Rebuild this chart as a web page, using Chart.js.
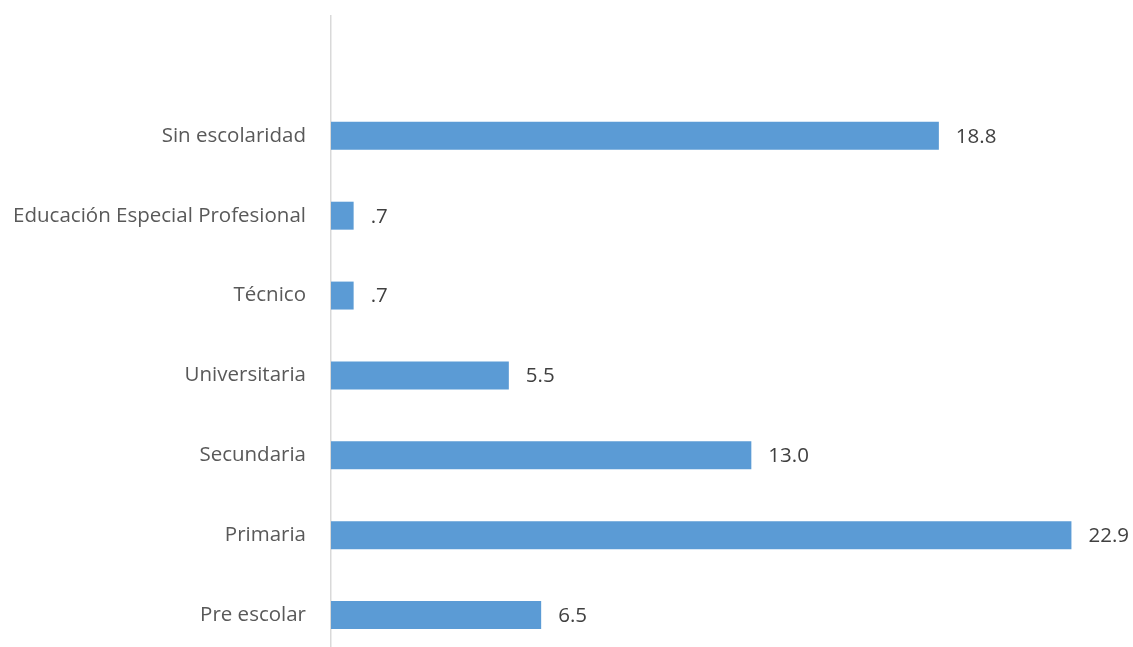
<!DOCTYPE html>
<html>
<head>
<meta charset="utf-8">
<script src="https://cdn.jsdelivr.net/npm/chart.js@4/dist/chart.umd.min.js"></script>
<style>
  html, body { margin: 0; padding: 0; background: #ffffff; overflow: hidden; }
  #wrap { width: 1133px; height: 660px; position: relative; }
</style>
</head>
<body>
<div id="wrap"><canvas id="c"></canvas></div>
<script>
// Education level categories (top slot left empty) and their percentages
const categories = ["", "Sin escolaridad", "Educación Especial Profesional", "Técnico", "Universitaria", "Secundaria", "Primaria", "Pre escolar"];
const values = [null, 18.8, 0.7, 0.7, 5.5, 13.0, 22.9, 6.5];

function fmt(v) {
  const s = v.toFixed(1);
  return s.startsWith("0") ? s.slice(1) : s;
}

// Draws the value next to the end of each bar
const valueLabels = {
  id: "valueLabels",
  afterDatasetsDraw(chart) {
    const ctx = chart.ctx;
    const meta = chart.getDatasetMeta(0);
    ctx.save();
    ctx.font = "20.5px 'Open Sans'";
    ctx.fillStyle = "#404040";
    ctx.textAlign = "left";
    ctx.textBaseline = "middle";
    meta.data.forEach((bar, i) => {
      const v = values[i];
      if (v === null || v === undefined) return;
      ctx.fillText(fmt(v), bar.x + 17, bar.y + 1);
    });
    ctx.restore();
  }
};

new Chart(document.getElementById("c"), {
  type: "bar",
  data: {
    labels: categories,
    datasets: [{
      data: values,
      backgroundColor: "#5b9bd5",
      borderWidth: 0,
      categoryPercentage: 1.0,
      barPercentage: 0.35
    }]
  },
  options: {
    indexAxis: "y",
    responsive: true,
    maintainAspectRatio: false,
    animation: false,
    layout: { padding: { top: 16, bottom: 5, left: 0, right: 26 } },
    plugins: { legend: { display: false }, tooltip: { enabled: false } },
    scales: {
      x: {
        display: false,
        min: 0,
        max: 24
      },
      y: {
        grid: { display: false },
        border: { display: true, color: "#d9d9d9", width: 1.5 },
        ticks: {
          color: "#595959",
          font: { family: "'Open Sans'", size: 20.5 },
          padding: 17
        },
        afterFit(scale) {
          scale.width = 331;
          scale.paddingTop = 0;
          scale.paddingBottom = 0;
        }
      }
    }
  },
  plugins: [valueLabels]
});
</script>
</body>
</html>
